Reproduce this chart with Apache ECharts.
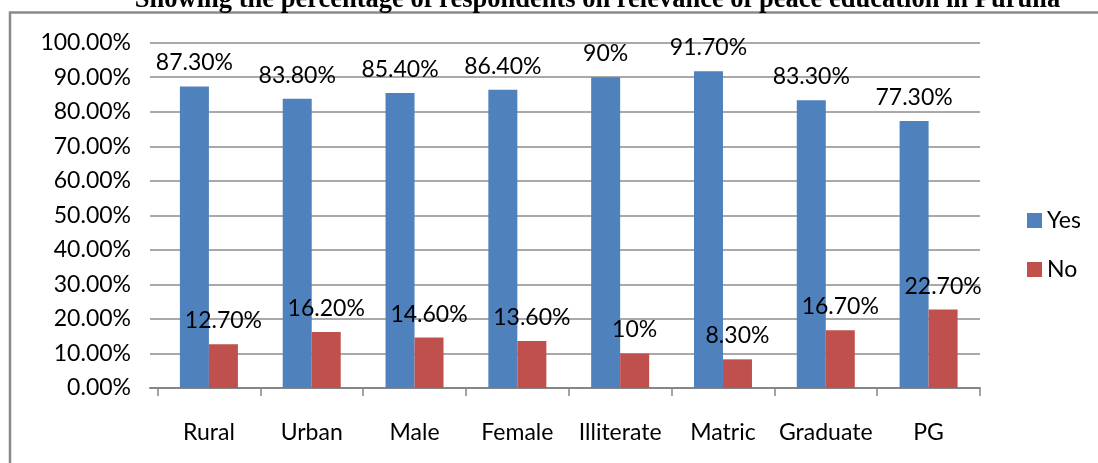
<!DOCTYPE html>
<html>
<head>
<meta charset="utf-8">
<script src="https://cdn.jsdelivr.net/npm/echarts@6/dist/echarts.min.js"></script>
<style>html,body{margin:0;padding:0;background:#fff}#c{width:1098px;height:463px}</style>
</head>
<body>
<div id="c"></div>
<script>
const titleText = 'Showing the percentage of respondents on relevance of peace education in Purulia';
const categories = ['Rural', 'Urban', 'Male', 'Female', 'Illiterate', 'Matric', 'Graduate', 'PG'];
const yesValues = [87.3, 83.8, 85.4, 86.4, 90, 91.7, 83.3, 77.3];
const noValues = [12.7, 16.2, 14.6, 13.6, 10, 8.3, 16.7, 22.7];
const seriesNames = ['Yes', 'No'];

const FONT = 'Lato';
const FS = 23;
const fmt = v => (Number.isInteger(v) ? v + '%' : v.toFixed(2) + '%');

const chart = echarts.init(document.getElementById('c'), null, {renderer: 'canvas'});
const gridTop = 42.7, gridBottom = 75, gridRight = 118;
const labelStyle = {
  show: true, position: 'top', distance: 12,
  color: '#000', fontFamily: FONT, fontSize: FS,
  formatter: p => fmt(p.value)
};
chart.setOption({
  animation: false,
  backgroundColor: '#fff',
  graphic: [
    {type: 'rect', shape: {x: 10, y: 12.5, width: 1200, height: 600},
     style: {fill: 'none', stroke: '#8a8a8a', lineWidth: 2.5}, z: -1},
    {type: 'text', x: 597.5, y: 14, style: {text: titleText, font: 'bold 26.5px "Liberation Serif"',
      fill: '#000', align: 'center', verticalAlign: 'bottom'}}
  ],
  grid: [
    {left: 157.5, right: gridRight, top: gridTop, bottom: gridBottom},
    {left: 150, right: gridRight, top: gridTop, bottom: gridBottom}
  ],
  legend: {
    orient: 'vertical', left: 1022, top: 204, itemWidth: 15, itemHeight: 15, itemGap: 26,
    icon: 'rect', textStyle: {fontFamily: FONT, fontSize: FS, color: '#000'},
    data: seriesNames
  },
  xAxis: [
    {type: 'category', gridIndex: 0, data: categories,
     axisLine: {show: false},
     axisTick: {show: true, length: 8, lineStyle: {color: '#868686', width: 1.5}},
     axisLabel: {margin: 33, color: '#000', fontFamily: FONT, fontSize: FS, interval: 0}},
    {type: 'category', gridIndex: 1, data: categories,
     axisLine: {show: true, lineStyle: {color: '#868686', width: 2}},
     axisTick: {show: false}, axisLabel: {show: false}}
  ],
  yAxis: [
    {type: 'value', gridIndex: 0, min: 0, max: 100, interval: 10,
     axisLine: {show: false}, axisTick: {show: false}, axisLabel: {show: false}, splitLine: {show: false}},
    {type: 'value', gridIndex: 1, min: 0, max: 100, interval: 10,
     axisLine: {show: false}, axisTick: {show: false},
     axisLabel: {margin: 19, color: '#000', fontFamily: FONT, fontSize: FS, formatter: v => v.toFixed(2) + '%'},
     splitLine: {show: true, lineStyle: {color: '#8c8c8c', width: 1.5}}}
  ],
  series: [
    {name: seriesNames[0], type: 'bar', xAxisIndex: 0, yAxisIndex: 0, data: yesValues,
     barWidth: 29, barGap: '0%', itemStyle: {color: '#4F81BD'}, label: labelStyle, z: 3},
    {name: seriesNames[1], type: 'bar', xAxisIndex: 0, yAxisIndex: 0, data: noValues,
     barWidth: 29, barGap: '0%', itemStyle: {color: '#C0504D'}, label: labelStyle, z: 3}
  ]
});
</script>
</body>
</html>
